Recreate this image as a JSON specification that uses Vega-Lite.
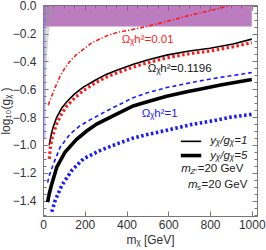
{
  "$schema": "https://vega.github.io/schema/vega-lite/v6.json",
  "width": 214,
  "height": 211,
  "autosize": "none",
  "padding": {"left": 43, "top": 5, "right": 9, "bottom": 34},
  "config": {
    "view": {"stroke": "#777", "strokeWidth": 1},
    "font": "Liberation Sans",
    "axis": {"labelFont": "Liberation Sans", "titleFont": "Liberation Sans", "labelFontSize": 12, "titleFontSize": 12, "titleFontWeight": "normal", "labelColor": "#333", "titleColor": "#333", "domainColor": "#777", "tickColor": "#777", "grid": false, "labelOverlap": false}
  },
  "datasets": {
    "curves": [
      {"s": "r1", "m": 25, "v": -0.714}, {"s": "r1", "m": 42, "v": -0.648}, {"s": "r1", "m": 58, "v": -0.588}, {"s": "r1", "m": 82, "v": -0.505}, {"s": "r1", "m": 106, "v": -0.445}, {"s": "r1", "m": 130, "v": -0.398}, {"s": "r1", "m": 161, "v": -0.35}, {"s": "r1", "m": 193, "v": -0.314}, {"s": "r1", "m": 233, "v": -0.267}, {"s": "r1", "m": 273, "v": -0.238}, {"s": "r1", "m": 313, "v": -0.212}, {"s": "r1", "m": 361, "v": -0.19}, {"s": "r1", "m": 433, "v": -0.17}, {"s": "r1", "m": 500, "v": -0.148}, {"s": "r1", "m": 600, "v": -0.11}, {"s": "r1", "m": 700, "v": -0.07}, {"s": "r1", "m": 800, "v": -0.035}, {"s": "r1", "m": 895, "v": 0.0},
      {"s": "k1", "m": 30, "v": -1.0}, {"s": "k1", "m": 40, "v": -0.92}, {"s": "k1", "m": 50, "v": -0.865}, {"s": "k1", "m": 66, "v": -0.8}, {"s": "k1", "m": 90, "v": -0.735}, {"s": "k1", "m": 114, "v": -0.69}, {"s": "k1", "m": 150, "v": -0.635}, {"s": "k1", "m": 193, "v": -0.585}, {"s": "k1", "m": 250, "v": -0.535}, {"s": "k1", "m": 300, "v": -0.495}, {"s": "k1", "m": 350, "v": -0.465}, {"s": "k1", "m": 433, "v": -0.42}, {"s": "k1", "m": 500, "v": -0.39}, {"s": "k1", "m": 592, "v": -0.355}, {"s": "k1", "m": 700, "v": -0.325}, {"s": "k1", "m": 800, "v": -0.305}, {"s": "k1", "m": 911, "v": -0.275}, {"s": "k1", "m": 1000, "v": -0.24},
      {"s": "r5", "m": 30, "v": -1.1}, {"s": "r5", "m": 35, "v": -1.02}, {"s": "r5", "m": 45, "v": -0.94}, {"s": "r5", "m": 66, "v": -0.845}, {"s": "r5", "m": 90, "v": -0.775}, {"s": "r5", "m": 114, "v": -0.72}, {"s": "r5", "m": 150, "v": -0.665}, {"s": "r5", "m": 193, "v": -0.61}, {"s": "r5", "m": 250, "v": -0.555}, {"s": "r5", "m": 300, "v": -0.515}, {"s": "r5", "m": 350, "v": -0.485}, {"s": "r5", "m": 433, "v": -0.44}, {"s": "r5", "m": 500, "v": -0.41}, {"s": "r5", "m": 592, "v": -0.375}, {"s": "r5", "m": 700, "v": -0.345}, {"s": "r5", "m": 800, "v": -0.325}, {"s": "r5", "m": 911, "v": -0.295}, {"s": "r5", "m": 1000, "v": -0.265},
      {"s": "k5", "m": 22, "v": -1.41}, {"s": "k5", "m": 30, "v": -1.35}, {"s": "k5", "m": 42, "v": -1.28}, {"s": "k5", "m": 66, "v": -1.16}, {"s": "k5", "m": 106, "v": -1.05}, {"s": "k5", "m": 161, "v": -0.96}, {"s": "k5", "m": 209, "v": -0.9}, {"s": "k5", "m": 257, "v": -0.85}, {"s": "k5", "m": 350, "v": -0.78}, {"s": "k5", "m": 432, "v": -0.72}, {"s": "k5", "m": 500, "v": -0.69}, {"s": "k5", "m": 592, "v": -0.65}, {"s": "k5", "m": 700, "v": -0.615}, {"s": "k5", "m": 751, "v": -0.6}, {"s": "k5", "m": 850, "v": -0.57}, {"s": "k5", "m": 1000, "v": -0.53},
      {"s": "b1", "m": 22, "v": -1.27}, {"s": "b1", "m": 30, "v": -1.22}, {"s": "b1", "m": 50, "v": -1.136}, {"s": "b1", "m": 82, "v": -1.016}, {"s": "b1", "m": 130, "v": -0.921}, {"s": "b1", "m": 177, "v": -0.862}, {"s": "b1", "m": 225, "v": -0.82}, {"s": "b1", "m": 321, "v": -0.743}, {"s": "b1", "m": 433, "v": -0.66}, {"s": "b1", "m": 500, "v": -0.625}, {"s": "b1", "m": 592, "v": -0.588}, {"s": "b1", "m": 700, "v": -0.555}, {"s": "b1", "m": 751, "v": -0.54}, {"s": "b1", "m": 850, "v": -0.515}, {"s": "b1", "m": 1000, "v": -0.48},
      {"s": "b5", "m": 42, "v": -1.48}, {"s": "b5", "m": 58, "v": -1.4}, {"s": "b5", "m": 90, "v": -1.29}, {"s": "b5", "m": 138, "v": -1.183}, {"s": "b5", "m": 193, "v": -1.1}, {"s": "b5", "m": 273, "v": -1.04}, {"s": "b5", "m": 353, "v": -0.993}, {"s": "b5", "m": 433, "v": -0.95}, {"s": "b5", "m": 500, "v": -0.925}, {"s": "b5", "m": 592, "v": -0.895}, {"s": "b5", "m": 705, "v": -0.855}, {"s": "b5", "m": 800, "v": -0.83}, {"s": "b5", "m": 900, "v": -0.8}, {"s": "b5", "m": 1000, "v": -0.78}
    ],
    "wedge": [
      {"v": 0.0, "a": 0, "b": 58}, {"v": -0.1, "a": 0, "b": 40}, {"v": -0.2, "a": 0, "b": 28}, {"v": -0.35, "a": 0, "b": 20}, {"v": -0.55, "a": 0, "b": 14}, {"v": -0.8, "a": 0, "b": 10}
    ],
    "legend": [
      {"k": "thin", "m": 660, "v": -0.974}, {"k": "thin", "m": 758, "v": -0.974},
      {"k": "thick", "m": 660, "v": -1.076}, {"k": "thick", "m": 758, "v": -1.076}
    ],
    "anchor": [{"m": 0, "v": 0}]
  },
  "resolve": {"axis": {"x": "independent", "y": "independent"}},
  "layer": [
    {
      "layer": [
        {
          "data": {"values": [{"m0": 0, "m1": 1000, "v0": -0.15, "v1": 0}]},
          "mark": {"type": "rect", "color": "#a24aa8", "opacity": 0.72},
          "encoding": {
            "x": {"field": "m0", "type": "quantitative", "scale": {"domain": [0, 1025], "nice": false, "zero": false},
                  "axis": {"title": "mᵪ [GeV]", "values": [0,50,100,150,200,250,300,350,400,450,500,550,600,650,700,750,800,850,900,950,1000],
                           "labelExpr": "datum.value % 200 === 0 ? datum.label : ''", "format": "d",
                           "tickSize": {"condition": {"test": "datum.value % 200 === 0", "value": -5}, "value": -3},
                           "labelPadding": 8, "titlePadding": 4, "labelFlush": false, "labelOverlap": false}},
            "x2": {"field": "m1"},
            "y": {"field": "v0", "type": "quantitative", "scale": {"domain": [-1.51, 0.005], "nice": false, "zero": false},
                  "axis": {"title": "log₁₀(gᵪ )", "values": [-1.4, -1.0, -0.6, -0.2], "format": ".1f",
                           "tickSize": -5, "labelPadding": 12, "titlePadding": 0, "labelFlush": false, "labelOverlap": false}},
            "y2": {"field": "v1"}
          }
        },
        {
          "data": {"values": [{"m0": 0, "m1": 12, "v0": -0.95, "v1": 0}]},
          "mark": {"type": "rect", "color": "#6a6aff", "opacity": 0.45},
          "encoding": {"x": {"field": "m0", "type": "quantitative"}, "x2": {"field": "m1"}, "y": {"field": "v0", "type": "quantitative"}, "y2": {"field": "v1"}}
        },
        {
          "data": {"name": "wedge"},
          "mark": {"type": "area", "orient": "horizontal", "color": "#999", "opacity": 0.35},
          "encoding": {"y": {"field": "v", "type": "quantitative"}, "x": {"field": "a", "type": "quantitative"}, "x2": {"field": "b"}}
        },
        {
          "data": {"name": "curves"}, "transform": [{"filter": "datum.s === 'r1'"}],
          "mark": {"type": "line", "color": "#ff1a1a", "strokeWidth": 1.6, "strokeDash": [4, 2, 1.2, 2]},
          "encoding": {"x": {"field": "m", "type": "quantitative"}, "y": {"field": "v", "type": "quantitative"}}
        },
        {
          "data": {"name": "curves"}, "transform": [{"filter": "datum.s === 'k1'"}],
          "mark": {"type": "line", "color": "#000", "strokeWidth": 1.6},
          "encoding": {"x": {"field": "m", "type": "quantitative"}, "y": {"field": "v", "type": "quantitative"}}
        },
        {
          "data": {"name": "curves"}, "transform": [{"filter": "datum.s === 'r5'"}],
          "mark": {"type": "line", "color": "#ff1a1a", "strokeWidth": 3.2, "strokeDash": [2.5, 2.5]},
          "encoding": {"x": {"field": "m", "type": "quantitative"}, "y": {"field": "v", "type": "quantitative"}}
        },
        {
          "data": {"name": "curves"}, "transform": [{"filter": "datum.s === 'k5'"}],
          "mark": {"type": "line", "color": "#000", "strokeWidth": 3.6},
          "encoding": {"x": {"field": "m", "type": "quantitative"}, "y": {"field": "v", "type": "quantitative"}}
        },
        {
          "data": {"name": "curves"}, "transform": [{"filter": "datum.s === 'b1'"}],
          "mark": {"type": "line", "color": "#1a1aff", "strokeWidth": 1.6, "strokeDash": [4, 3]},
          "encoding": {"x": {"field": "m", "type": "quantitative"}, "y": {"field": "v", "type": "quantitative"}}
        },
        {
          "data": {"name": "curves"}, "transform": [{"filter": "datum.s === 'b5'"}],
          "mark": {"type": "line", "color": "#1a1aff", "strokeWidth": 3.6, "strokeDash": [2.5, 2.5]},
          "encoding": {"x": {"field": "m", "type": "quantitative"}, "y": {"field": "v", "type": "quantitative"}}
        },
        {
          "data": {"name": "legend"}, "transform": [{"filter": "datum.k === 'thin'"}],
          "mark": {"type": "line", "color": "#000", "strokeWidth": 1.6},
          "encoding": {"x": {"field": "m", "type": "quantitative"}, "y": {"field": "v", "type": "quantitative"}}
        },
        {
          "data": {"name": "legend"}, "transform": [{"filter": "datum.k === 'thick'"}],
          "mark": {"type": "line", "color": "#000", "strokeWidth": 3.6},
          "encoding": {"x": {"field": "m", "type": "quantitative"}, "y": {"field": "v", "type": "quantitative"}}
        },
        {
          "data": {"values": [
            {"t": "Ωᵪh²=0.01", "m": 377, "v": -0.243, "c": "red"},
            {"t": "Ωᵪh²=0.1196", "m": 502, "v": -0.457, "c": "black"},
            {"t": "Ωᵪh²=1", "m": 473, "v": -0.779, "c": "blue"}
          ]},
          "mark": {"type": "text", "align": "left", "baseline": "middle", "fontSize": 11.5, "font": "Liberation Sans"},
          "encoding": {
            "x": {"field": "m", "type": "quantitative"}, "y": {"field": "v", "type": "quantitative"}, "text": {"field": "t"},
            "color": {"field": "c", "type": "nominal", "scale": {"domain": ["red", "black", "blue"], "range": ["#ff1a1a", "#111", "#1a1aff"]}, "legend": null}
          }
        },
        {
          "data": {"values": [
            {"t": "yᵪ/gᵪ=1", "m": 801, "v": -0.974},
            {"t": "yᵪ/gᵪ=5", "m": 801, "v": -1.076}
          ]},
          "mark": {"type": "text", "align": "left", "baseline": "middle", "fontSize": 11.5, "fontStyle": "italic", "font": "Liberation Sans", "color": "#222"},
          "encoding": {"x": {"field": "m", "type": "quantitative"}, "y": {"field": "v", "type": "quantitative"}, "text": {"field": "t"}}
        },
        {
          "data": {"values": [
            {"t": "m", "m": 662, "v": -1.176},
            {"t": "m", "m": 695, "v": -1.284}
          ]},
          "mark": {"type": "text", "align": "left", "baseline": "middle", "fontSize": 11.5, "fontStyle": "italic", "font": "Liberation Sans", "color": "#222"},
          "encoding": {"x": {"field": "m", "type": "quantitative"}, "y": {"field": "v", "type": "quantitative"}, "text": {"field": "t"}}
        },
        {
          "data": {"values": [
            {"t": "Z′", "m": 662, "v": -1.176},
            {"t": "s", "m": 695, "v": -1.284}
          ]},
          "mark": {"type": "text", "align": "left", "baseline": "middle", "fontSize": 8, "fontStyle": "italic", "font": "Liberation Sans", "color": "#222", "dx": 9, "dy": 3},
          "encoding": {"x": {"field": "m", "type": "quantitative"}, "y": {"field": "v", "type": "quantitative"}, "text": {"field": "t"}}
        },
        {
          "data": {"values": [
            {"t": "=20 GeV", "m": 662, "v": -1.176}
          ]},
          "mark": {"type": "text", "align": "left", "baseline": "middle", "fontSize": 11.5, "font": "Liberation Sans", "color": "#222", "dx": 16.5},
          "encoding": {"x": {"field": "m", "type": "quantitative"}, "y": {"field": "v", "type": "quantitative"}, "text": {"field": "t"}}
        },
        {
          "data": {"values": [
            {"t": "=20 GeV", "m": 695, "v": -1.284}
          ]},
          "mark": {"type": "text", "align": "left", "baseline": "middle", "fontSize": 11.5, "font": "Liberation Sans", "color": "#222", "dx": 13.5},
          "encoding": {"x": {"field": "m", "type": "quantitative"}, "y": {"field": "v", "type": "quantitative"}, "text": {"field": "t"}}
        }
      ]
    },
    {
      "data": {"name": "anchor"},
      "mark": {"type": "point", "opacity": 0},
      "encoding": {
        "x": {"field": "m", "type": "quantitative",
              "axis": {"orient": "top", "title": null, "labels": false, "domain": false, "values": [0,50,100,150,200,250,300,350,400,450,500,550,600,650,700,750,800,850,900,950,1000],
                       "tickSize": {"condition": {"test": "datum.value % 200 === 0", "value": -5}, "value": -3}}},
        "y": {"field": "v", "type": "quantitative",
              "axis": {"orient": "left", "title": null, "domain": false, "values": [-1.2, -0.8, -0.4, 0], "format": ".1f", "tickSize": -5, "labelPadding": 12, "labelFlush": false, "labelOverlap": false}}
      }
    },
    {
      "data": {"name": "anchor"},
      "mark": {"type": "point", "opacity": 0},
      "encoding": {
        "x": {"field": "m", "type": "quantitative", "axis": null},
        "y": {"field": "v", "type": "quantitative",
              "axis": {"orient": "left", "title": null, "labels": false, "domain": false, "values": [-1.5,-1.45,-1.35,-1.3,-1.25,-1.15,-1.1,-1.05,-0.95,-0.9,-0.85,-0.75,-0.7,-0.65,-0.55,-0.5,-0.45,-0.35,-0.3,-0.25,-0.15,-0.1,-0.05], "tickSize": -3}}
      }
    },
    {
      "data": {"name": "anchor"},
      "mark": {"type": "point", "opacity": 0},
      "encoding": {
        "x": {"field": "m", "type": "quantitative", "axis": null},
        "y": {"field": "v", "type": "quantitative",
              "axis": {"orient": "right", "title": null, "labels": false, "domain": false, "values": [-1.4, -1.2, -1.0, -0.8, -0.6, -0.4, -0.2, 0], "tickSize": -5}}
      }
    },
    {
      "data": {"name": "anchor"},
      "mark": {"type": "point", "opacity": 0},
      "encoding": {
        "x": {"field": "m", "type": "quantitative", "axis": null},
        "y": {"field": "v", "type": "quantitative",
              "axis": {"orient": "right", "title": null, "labels": false, "domain": false, "values": [-1.5,-1.45,-1.35,-1.3,-1.25,-1.15,-1.1,-1.05,-0.95,-0.9,-0.85,-0.75,-0.7,-0.65,-0.55,-0.5,-0.45,-0.35,-0.3,-0.25,-0.15,-0.1,-0.05], "tickSize": -3}}
      }
    }
  ]
}
